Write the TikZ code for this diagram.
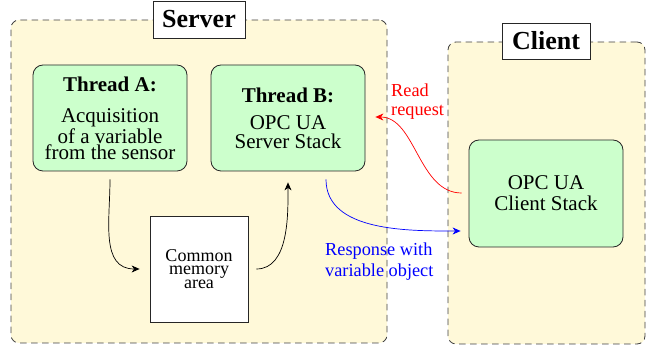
\documentclass[tikz,border=0pt]{standalone}
\usepackage{fontspec}
\setmainfont{Liberation Serif}
\newfontfamily\diagfont{Liberation Serif}
\usetikzlibrary{arrows.meta}
\definecolor{zoneyellow}{RGB}{255,249,217}
\definecolor{threadgreen}{RGB}{204,255,204}
\begin{document}
\begin{tikzpicture}[x=1pt,y=-1pt,
  zone/.style={draw=black!75, dash pattern=on 6.5pt off 4.5pt, fill=zoneyellow, rounded corners=8pt, line width=0.8pt},
  zonetitle/.style={draw=black!85, fill=white, line width=0.8pt, font=\diagfont\fontsize{26}{30}\selectfont\bfseries, inner sep=0pt},
  thread/.style={draw=black!85, fill=threadgreen, rounded corners=10pt, line width=0.8pt, align=center, inner sep=0pt, minimum width=154pt, minimum height=106pt},
  membox/.style={draw=black!85, fill=white, line width=0.8pt, align=center, inner sep=0pt, minimum width=98pt, minimum height=106pt},
  flow/.style={-{Stealth[length=8pt,width=7pt,inset=2.5pt]}, line width=0.7pt},
  lbl/.style={align=left, anchor=north west, inner sep=0pt}
]
\useasboundingbox (0,0) rectangle (649,347);
\node[zone, minimum width=376pt, minimum height=323pt] (server) at (199,181.5) {};
\node[zone, minimum width=197pt, minimum height=302pt] (client) at (546.5,193) {};
\node[zonetitle, minimum width=92pt, minimum height=37pt] (servertitle) at (199,19.5) {Server};
\node[zonetitle, minimum width=88pt, minimum height=36pt] (clienttitle) at (546,41) {Client};

\node[thread, font=\diagfont\fontsize{21}{16.3}\selectfont] (tA) at (110,118)
  {\textbf{Thread A:}\\[15.5pt]Acquisition\\of a variable\\from the sensor};
\node[thread, font=\diagfont\fontsize{21}{18.4}\selectfont] (tB) at (288,118)
  {\textbf{Thread B:}\\[8.9pt]OPC UA\\Server Stack};
\node[membox, font=\diagfont\fontsize{18}{13.5}\selectfont] (mem) at (199,269)
  {Common\\memory\\area};
\node[thread, minimum height=107pt, font=\diagfont\fontsize{21}{20.7}\selectfont] (cstack) at (546,193.5)
  {OPC UA\\Client Stack};

\draw[flow, shorten <=8pt, shorten >=10pt] (tA.south) to[out=-90,in=180,looseness=1.2] (mem.west);
\draw[flow, shorten <=8pt, shorten >=11pt] (mem.east) to[out=0,in=-90] (tB.south);
\draw[flow, blue, shorten <=8pt, shorten >=8pt] ([xshift=38pt]tB.south) to[out=-90,in=180] ([yshift=-37.5pt]cstack.west);
\draw[flow, red, shorten <=7pt, shorten >=10pt] ([yshift=0.5pt]cstack.west) to[out=180,in=0] ([yshift=1pt]tB.east);

\node[lbl, text=red, font=\diagfont\fontsize{18.3}{19}\selectfont] (readlbl) at (391,83.5) {Read\\request};
\node[lbl, text=blue, font=\diagfont\fontsize{18.3}{21}\selectfont] (resplbl) at (325,242.5) {Response with\\variable object};
\end{tikzpicture}
\end{document}
